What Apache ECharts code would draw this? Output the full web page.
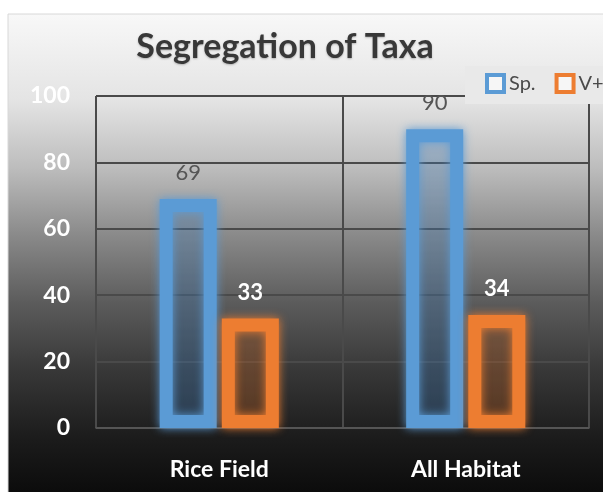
<!DOCTYPE html>
<html><head><meta charset="utf-8">
<script src="https://cdn.jsdelivr.net/npm/echarts@6/dist/echarts.min.js"></script>
<style>html,body{margin:0;padding:0;background:#fff}#c{width:603px;height:492px}</style>
</head><body><div id="c"></div>
<script>
const categories = ['Rice Field', 'All Habitat'];
const spValues = [69, 90];
const vValues = [33, 34];
const yTicks = [0, 20, 40, 60, 80, 100];
const seriesNames = ['Sp.', 'V+'];

const BLUE = '#5B9BD5', ORANGE = '#ED7D31';
const chart = echarts.init(document.getElementById('c'), null, {renderer: 'canvas'});
const font = 'Lato, "Open Sans", sans-serif';

function barSeries(name, data, color, labelStyle) {
  return {
    name, type: 'bar', data,
    barWidth: 57, barGap: '9%',
    itemStyle: {
      color: color === BLUE ? 'rgba(40,90,150,0.18)' : 'rgba(150,70,20,0.18)',
      borderColor: color, borderWidth: 13,
      shadowColor: color, shadowBlur: 10
    },
    label: Object.assign({show: true, position: 'top', distance: 15, fontFamily: font, fontSize: 22}, labelStyle)
  };
}

chart.setOption({
  backgroundColor: '#ffffff',
  animation: false,
  graphic: [{
    type: 'rect', z: -100, silent: true,
    shape: {x: 8, y: 14, width: 600, height: 480},
    style: {
      stroke: '#d8d8d8', lineWidth: 1,
      fill: new echarts.graphic.LinearGradient(0, 0, 0, 1, [
        {offset: 0, color: '#f8f8f8'},
        {offset: 0.18, color: '#e4e4e4'},
        {offset: 0.32, color: '#bdbdbd'},
        {offset: 0.46, color: '#8a8a8a'},
        {offset: 0.6, color: '#5c5c5c'},
        {offset: 0.74, color: '#383838'},
        {offset: 0.88, color: '#1c1c1c'},
        {offset: 1, color: '#0b0b0b'}
      ])
    }
  }],
  title: {
    text: 'Segregation of Taxa', left: 280, top: 25, textAlign: 'center',
    textStyle: {fontFamily: font, fontSize: 34, fontWeight: 'bold', color: '#383838',
      textShadowColor: 'rgba(0,0,0,0.25)', textShadowBlur: 2, textShadowOffsetY: 1}
  },
  legend: {
    orient: 'horizontal',
    left: 465, top: 66, width: 400,
    padding: [7, 10, 10, 20],
    backgroundColor: '#e9e9e9',
    itemWidth: 17, itemHeight: 17, itemGap: 19,
    icon: 'rect',
    textStyle: {fontFamily: font, fontSize: 20, color: '#4a4a4a'},
    data: [
      {name: seriesNames[0], itemStyle: {color: 'rgba(255,255,255,0.6)', borderColor: BLUE, borderWidth: 4, shadowBlur: 0}},
      {name: seriesNames[1], itemStyle: {color: 'rgba(255,255,255,0.6)', borderColor: ORANGE, borderWidth: 4, shadowBlur: 0}}
    ]
  },
  grid: {left: 96, right: 14, top: 96, bottom: 64},
  xAxis: {
    type: 'category', data: categories,
    axisLine: {show: true, lineStyle: {color: '#5a5a5a', width: 1.5}},
    axisTick: {show: false},
    splitLine: {show: true, lineStyle: {color: '#4a4a4a', width: 2}},
    axisLabel: {fontFamily: font, fontSize: 23, fontWeight: 'bold', color: '#ffffff', margin: 30}
  },
  yAxis: {
    type: 'value', min: yTicks[0], max: yTicks[yTicks.length - 1], interval: 20,
    axisLine: {show: false}, axisTick: {show: false},
    splitLine: {lineStyle: {color: '#4a4a4a', width: 2}},
    axisLabel: {fontFamily: font, fontSize: 23, fontWeight: 'bold', color: '#ffffff', margin: 26}
  },
  series: [
    barSeries(seriesNames[0], spValues, BLUE, {color: '#555555', fontWeight: 'normal'}),
    barSeries(seriesNames[1], vValues, ORANGE, {color: '#ffffff', fontWeight: 'bold'})
  ]
});
</script></body></html>
